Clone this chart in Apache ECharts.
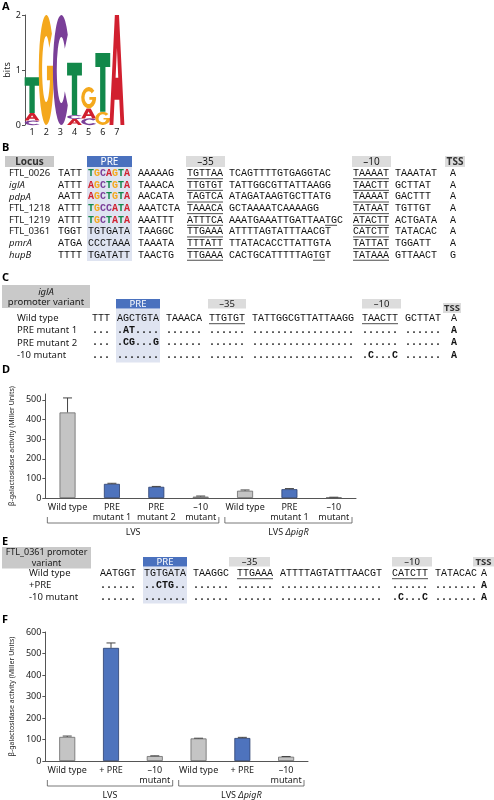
<!DOCTYPE html>
<html>
<head>
<meta charset="utf-8">
<script src="https://cdn.jsdelivr.net/npm/echarts@6/dist/echarts.min.js"></script>
<style>
  html, body { margin: 0; padding: 0; background: #fff; }
  #main { width: 494px; height: 800px; }
</style>
</head>
<body>
<div id="main"></div>
<script>
// ---------- data ----------
// A: sequence logo, letters stacked bottom -> top, heights in bits
const logoPositions = ['1', '2', '3', '4', '5', '6', '7'];
const logoStacks = [
  [['C', 0.08], ['A', 0.14], ['T', 0.65]],
  [['G', 2.0]],
  [['C', 2.0]],
  [['A', 0.11], ['C', 0.07], ['T', 0.95]],
  [['C', 0.12], ['A', 0.18], ['G', 0.39]],
  [['G', 0.24], ['T', 1.07]],
  [['A', 2.0]]
];

// B: promoter alignment
const loci = ['FTL_0026', 'iglA', 'pdpA', 'FTL_1218', 'FTL_1219', 'FTL_0361', 'pmrA', 'hupB'];
const lociItalic = [false, true, true, false, false, false, true, true];
const lociUpstream = ['TATT', 'ATTT', 'AATT', 'ATTT', 'ATTT', 'TGGT', 'ATGA', 'TTTT'];
const lociPre = ['TGCAGTA', 'AGCTGTA', 'AGCTGTA', 'TGCCATA', 'TGCTATA', 'TGTGATA', 'CCCTAAA', 'TGATATT'];
const lociPreColoured = [true, true, true, true, true, false, false, false];
const lociDown = ['AAAAAG', 'TAAACA', 'AACATA', 'AAATCTA', 'AAATTT', 'TAAGGC', 'TAAATA', 'TAACTG'];
const lociM35 = ['TGTTAA', 'TTGTGT', 'TAGTCA', 'TAAACA', 'ATTTCA', 'TTGAAA', 'TTTATT', 'TTGAAA'];
const lociSpacer = ['TCAGTTTTGTGAGGTAC', 'TATTGGCGTTATTAAGG', 'ATAGATAAGTGCTTATG', 'GCTAAAATCAAAAGG',
  'AAATGAAATTGATTAATGC', 'ATTTTAGTATTTAACGT', 'TTATACACCTTATTGTA', 'CACTGCATTTTTAGTGT'];
const lociSpacerMark = [null, null, null, null, [16, 2], null, null, [14, 2]];
const lociM10 = ['TAAAAT', 'TAACTT', 'TAAAAT', 'TATAAT', 'ATACTT', 'CATCTT', 'TATTAT', 'TATAAA'];
const lociPost = ['TAAATAT', 'GCTTAT', 'GACTTT', 'TGTTGT', 'ACTGATA', 'TATACAC', 'TGGATT', 'GTTAACT'];
const lociTss = ['A', 'A', 'A', 'A', 'A', 'A', 'A', 'G'];

// C: iglA promoter variants
const iglaLabels = ['Wild type', 'PRE mutant 1', 'PRE mutant 2', '-10 mutant'];
const iglaSeqs = [
  ['TTT', 'AGCTGTA', 'TAAACA', 'TTGTGT', 'TATTGGCGTTATTAAGG', 'TAACTT', 'GCTTAT', 'A'],
  ['...', '.AT....', '......', '......', '.................', '......', '......', 'A'],
  ['...', '.CG...G', '......', '......', '.................', '......', '......', 'A'],
  ['...', '.......', '......', '......', '.................', '.C...C', '......', 'A']
];

// D: iglA reporter activity
const dCategories = ['Wild type', 'PRE\nmutant 1', 'PRE\nmutant 2', '–10\nmutant', 'Wild type', 'PRE\nmutant 1', '–10\nmutant'];
const dValues = [436, 72, 57, 7, 37, 45, 3];
const dErrors = [74, 3, 2, 3, 4, 3, 1];
const dIsPre = [false, true, true, false, false, true, false];
const dTicks = [0, 100, 200, 300, 400, 500];
const dGroups = [['LVS', '', 0, 3], ['LVS ', 'ΔpigR', 4, 6]];

// E: FTL_0361 promoter variants
const ftlLabels = ['Wild type', '+PRE', '-10 mutant'];
const ftlSeqs = [
  ['AATGGT', 'TGTGATA', 'TAAGGC', 'TTGAAA', 'ATTTTAGTATTTAACGT', 'CATCTT', 'TATACAC', 'A'],
  ['......', '..CTG..', '......', '......', '.................', '......', '.......', 'A'],
  ['......', '.......', '......', '......', '.................', '.C...C', '.......', 'A']
];

// F: FTL_0361 reporter activity
const fCategories = ['Wild type', '+ PRE', '–10\nmutant', 'Wild type', '+ PRE', '–10\nmutant'];
const fValues = [112, 526, 23, 105, 107, 20];
const fErrors = [4, 23, 1, 1, 3, 1];
const fIsPre = [false, true, false, false, true, false];
const fTicks = [0, 100, 200, 300, 400, 500, 600];
const fGroups = [['LVS', '', 0, 2], ['LVS ', 'ΔpigR', 3, 5]];

// ---------- style ----------
const SANS = '"Noto Sans", "Liberation Sans", sans-serif';
const MONO = '"Liberation Mono", "DejaVu Sans Mono", monospace';
const MONO_SIZE = 10;
const CW = MONO_SIZE * 0.6;
const GRAY = '#c4c4c4', GRAY_EDGE = '#6a6a6a', BLUE = '#4e73bd', BLUE_EDGE = '#2b3f6e';
const PRE_BOX = '#4a71be', PRE_SHADE = '#dfe4f1', HEAD_BOX = '#dcdcdc', LABEL_BOX = '#c9c9c9';
const LETTER_COLORS = { A: '#d1202f', C: '#7a3f98', G: '#f4a81d', T: '#12884a' };
const LETTERS = 'ACGT';
const GLYPHS = {
  T: 'M0 0H100V24H68V100H32V24H0Z',
  A: 'M0 100L36 0H64L100 100H74L66 77H34L26 100Z M41 57H59L50 30Z',
  C: 'M86.8 17.9A48 50 0 1 0 86.8 82.1L69.9 69.3A26 30 0 1 1 69.9 30.7Z',
  G: 'M86.8 17.9A48 50 0 1 0 98 59V47H55V60H74.5A26 30 0 1 1 69.9 30.7Z'
};

// ---------- graphic helpers ----------
const g = [];
function rect(x, y, w, h, fill) {
  g.push({ type: 'rect', silent: true, shape: { x: x, y: y, width: w, height: h }, style: { fill: fill } });
}
function text(x, y, s, st) {
  const base = {
    x: x, y: y, text: s, fill: '#1a1a1a', fontFamily: SANS, fontSize: 9.5,
    fontWeight: 'normal', fontStyle: 'normal',
    align: 'left', textAlign: 'left', verticalAlign: 'middle', textVerticalAlign: 'middle'
  };
  const o = Object.assign(base, st || {});
  if (st && st.align) o.textAlign = st.align;
  g.push({ type: 'text', silent: true, style: o });
}
function ctext(x, y, s, st) { text(x, y, s, Object.assign({ align: 'center' }, st || {})); }
function uline(x1, x2, y) {
  g.push({ type: 'line', silent: true, shape: { x1: x1, y1: y, x2: x2, y2: y }, style: { stroke: '#222', lineWidth: 0.8 } });
}
function seq(x, y, s, bold) {
  text(x, y, s, { fontFamily: MONO, fontSize: MONO_SIZE, fill: '#111', fontWeight: bold ? 'bold' : 'normal' });
}
function seqColoured(x, y, s) {
  const rich = {};
  'ACGT'.split('').forEach(function (c) {
    rich[c] = { fill: LETTER_COLORS[c], fontFamily: MONO, fontSize: MONO_SIZE, fontWeight: 'bold' };
  });
  text(x, y, s.split('').map(function (c) { return '{' + c + '|' + c + '}'; }).join(''),
    { fontFamily: MONO, fontSize: MONO_SIZE, fontWeight: 'bold', rich: rich });
}
function underSeq(x, y, from, n) { uline(x + from * CW, x + (from + n) * CW, y + 5.2); }
function panelLabel(y, s) { text(2, y, s, { fontWeight: 'bold', fontSize: 11, fill: '#000' }); }

// ---------- A ----------
panelLabel(7, 'A');

// ---------- B ----------
panelLabel(147.5, 'B');
const B_COLS = [58, 88, 138, 187, 229, 353, 395, 450];
const B_Y0 = 173.5, B_DY = 11.65;
rect(87, 167, 45, 94, PRE_SHADE);
rect(5, 156, 49, 11, LABEL_BOX); ctext(29.5, 161.8, 'Locus', { fontSize: 10, fontWeight: 'bold', fill: '#333' });
rect(87, 156, 45, 11, PRE_BOX); ctext(109.5, 161.8, 'PRE', { fill: '#fff', fontSize: 10 });
rect(186, 156, 39, 11, HEAD_BOX); ctext(205.5, 161.8, '–35', { fontSize: 10 });
rect(352, 156, 39, 11, HEAD_BOX); ctext(371.5, 161.8, '–10', { fontSize: 10 });
rect(445, 156, 20, 11, HEAD_BOX); ctext(455, 161.8, 'TSS', { fontSize: 10, fontWeight: 'bold', fill: '#333' });
loci.forEach(function (name, i) {
  const y = B_Y0 + i * B_DY;
  text(9, y, name, { fontStyle: lociItalic[i] ? 'italic' : 'normal' });
  const chunks = [lociUpstream[i], lociPre[i], lociDown[i], lociM35[i], lociSpacer[i], lociM10[i], lociPost[i], lociTss[i]];
  chunks.forEach(function (s, k) {
    if (k === 1 && lociPreColoured[i]) seqColoured(B_COLS[k], y, s);
    else seq(B_COLS[k], y, s, false);
  });
  underSeq(B_COLS[3], y, 0, lociM35[i].length);
  underSeq(B_COLS[5], y, 0, lociM10[i].length);
  if (lociSpacerMark[i]) underSeq(B_COLS[4], y, lociSpacerMark[i][0], lociSpacerMark[i][1]);
});

// ---------- C ----------
panelLabel(277.5, 'C');
const C_COLS = [92, 117, 166, 209, 252, 362, 405, 451];
const C_Y0 = 318.5, C_DY = 12.2;
rect(2, 285, 88, 23, LABEL_BOX);
ctext(46, 292, 'iglA', { fontStyle: 'italic', fontSize: 9.5 });
ctext(46, 302.5, 'promoter variant', { fontSize: 9.5 });
rect(116, 308.5, 44, 54, PRE_SHADE);
rect(116, 299, 44, 9.5, PRE_BOX); ctext(138, 304, 'PRE', { fill: '#fff' });
rect(208, 299, 38, 9.5, HEAD_BOX); ctext(227, 304, '–35');
rect(362, 299, 39, 9.5, HEAD_BOX); ctext(381.5, 304, '–10');
rect(443, 303, 18, 10, HEAD_BOX); ctext(452, 308.2, 'TSS', { fontWeight: 'bold', fill: '#333' });
iglaSeqs.forEach(function (row, i) {
  const y = C_Y0 + i * C_DY;
  text(17, y, iglaLabels[i]);
  row.forEach(function (s, k) { seq(C_COLS[k], y, s, i > 0); });
  if (i === 0) {
    underSeq(C_COLS[3], y, 0, row[3].length);
    underSeq(C_COLS[5], y, 0, row[5].length);
  }
});

// ---------- D / E / F labels ----------
panelLabel(370, 'D');
panelLabel(542, 'E');
const E_COLS = [100, 144, 193, 237, 280, 392, 435, 481];
const E_Y0 = 573.5, E_DY = 11.8;
rect(2, 547, 89, 21.5, LABEL_BOX);
ctext(46.5, 552.8, 'FTL_0361 promoter', { fontSize: 9 });
ctext(46.5, 563.3, 'variant', { fontSize: 9 });
rect(143, 566.5, 44, 37, PRE_SHADE);
rect(143, 557, 44, 9.5, PRE_BOX); ctext(165, 562, 'PRE', { fill: '#fff' });
rect(229, 557, 41, 9.5, HEAD_BOX); ctext(249.5, 562, '–35');
rect(392, 557, 40, 9.5, HEAD_BOX); ctext(412, 562, '–10');
rect(473, 557, 21, 9.5, HEAD_BOX); ctext(483.5, 562, 'TSS', { fontWeight: 'bold', fill: '#333' });
ftlSeqs.forEach(function (row, i) {
  const y = E_Y0 + i * E_DY;
  text(29, y, ftlLabels[i]);
  row.forEach(function (s, k) { seq(E_COLS[k], y, s, i > 0); });
  if (i === 0) {
    underSeq(E_COLS[3], y, 0, row[3].length);
    underSeq(E_COLS[5], y, 0, row[5].length);
  }
});
panelLabel(620, 'F');

// ---------- chart ----------
const chart = echarts.init(document.getElementById('main'), null, { renderer: 'canvas' });

const logoData = [];
logoStacks.forEach(function (stack, col) {
  let base = 0;
  stack.forEach(function (item) {
    logoData.push([col, base, base + item[1], LETTERS.indexOf(item[0])]);
    base += item[1];
  });
});

function renderLetter(params, api) {
  const col = api.value(0);
  const bottom = api.coord([col, api.value(1)]);
  const top = api.coord([col, api.value(2)]);
  const w = api.size([1, 0])[0] * 1.05;
  const letter = LETTERS.charAt(api.value(3));
  return {
    type: 'path',
    shape: { pathData: GLYPHS[letter], x: bottom[0] - w / 2, y: top[1], width: w, height: bottom[1] - top[1], layout: 'cover' },
    style: { fill: LETTER_COLORS[letter] }
  };
}

function renderError(params, api) {
  const x = api.value(0), v = api.value(1), e = api.value(2);
  const p0 = api.coord([x, v]);
  const p1 = api.coord([x, v + e]);
  const cap = 4.5;
  const st = { stroke: '#444', lineWidth: 1 };
  return {
    type: 'group',
    children: [
      { type: 'line', shape: { x1: p0[0], y1: p0[1], x2: p1[0], y2: p1[1] }, style: st },
      { type: 'line', shape: { x1: p1[0] - cap, y1: p1[1], x2: p1[0] + cap, y2: p1[1] }, style: st }
    ]
  };
}

const axisFont = { color: '#222', fontFamily: SANS, fontSize: 9 };
const yName = 'β-galactosidase activity (Miller Units)';

function barData(values, isPre) {
  return values.map(function (v, i) {
    return {
      value: v,
      itemStyle: { color: isPre[i] ? BLUE : GRAY, borderColor: isPre[i] ? BLUE_EDGE : GRAY_EDGE, borderWidth: 0.8 }
    };
  });
}
function catAxis(gridIndex, data) {
  return {
    type: 'category', gridIndex: gridIndex, data: data,
    axisLine: { show: true, lineStyle: { color: '#555', width: 1 } },
    axisTick: { show: false },
    axisLabel: Object.assign({ interval: 0, margin: 4, lineHeight: 10.5 }, axisFont)
  };
}
function valAxis(gridIndex, max, ticks) {
  return {
    type: 'value', gridIndex: gridIndex, min: 0, max: max,
    splitLine: { show: false },
    axisLine: { show: true, lineStyle: { color: '#555', width: 1 } },
    axisTick: { show: true, length: 3, customValues: ticks, lineStyle: { color: '#555' } },
    axisLabel: Object.assign({ margin: 4, customValues: ticks }, axisFont),
    name: yName, nameLocation: 'middle', nameGap: 21,
    nameTextStyle: { fontFamily: SANS, fontSize: 7, color: '#222' }
  };
}

const option = {
  animation: false,
  backgroundColor: '#fff',
  textStyle: { fontFamily: SANS },
  grid: [
    { left: 25, top: 15, width: 99, height: 110 },
    { left: 36, top: 394, width: 320, height: 104 },
    { left: 36, top: 632, width: 272, height: 129 }
  ],
  xAxis: [
    {
      type: 'category', gridIndex: 0, data: logoPositions,
      axisLine: { show: false }, axisTick: { show: false },
      axisLabel: Object.assign({ margin: 3 }, axisFont)
    },
    catAxis(1, dCategories),
    catAxis(2, fCategories)
  ],
  yAxis: [
    {
      type: 'value', gridIndex: 0, min: 0, max: 2, interval: 1,
      splitLine: { show: false },
      axisLine: { show: true, lineStyle: { color: '#555' } },
      axisTick: { show: true, length: 3, lineStyle: { color: '#555' } },
      axisLabel: Object.assign({ margin: 4 }, axisFont),
      name: 'bits', nameLocation: 'middle', nameGap: 13,
      nameTextStyle: { fontFamily: SANS, fontSize: 9, color: '#222' }
    },
    valAxis(1, 530, dTicks),
    valAxis(2, 600, fTicks)
  ],
  series: [
    { type: 'custom', xAxisIndex: 0, yAxisIndex: 0, renderItem: renderLetter, data: logoData, silent: true },
    { type: 'bar', xAxisIndex: 1, yAxisIndex: 1, barWidth: 16, data: barData(dValues, dIsPre), silent: true },
    {
      type: 'custom', xAxisIndex: 1, yAxisIndex: 1, renderItem: renderError, z: 3, silent: true,
      data: dValues.map(function (v, i) { return [i, v, dErrors[i]]; })
    },
    { type: 'bar', xAxisIndex: 2, yAxisIndex: 2, barWidth: 16, data: barData(fValues, fIsPre), silent: true },
    {
      type: 'custom', xAxisIndex: 2, yAxisIndex: 2, renderItem: renderError, z: 3, silent: true,
      data: fValues.map(function (v, i) { return [i, v, fErrors[i]]; })
    }
  ]
};
chart.setOption(option);

// group brackets under the bar charts, placed from the axis positions
function brackets(gridIndex, groups) {
  const c0 = chart.convertToPixel({ gridIndex: gridIndex }, [0, 0]);
  const c1 = chart.convertToPixel({ gridIndex: gridIndex }, [1, 0]);
  const band = c1[0] - c0[0];
  const yLine = c0[1] + 25;
  groups.forEach(function (gr) {
    const xa = chart.convertToPixel({ gridIndex: gridIndex }, [gr[2], 0])[0] - band / 2 + 2;
    const xb = chart.convertToPixel({ gridIndex: gridIndex }, [gr[3], 0])[0] + band / 2 - 4;
    g.push({
      type: 'polyline', silent: true,
      shape: { points: [[xa, yLine - 6], [xa, yLine], [xb, yLine], [xb, yLine - 6]] },
      style: { stroke: '#555', fill: null, lineWidth: 0.8 }
    });
    const rich = {
      n: { fontFamily: SANS, fontSize: 9, fill: '#1a1a1a' },
      i: { fontFamily: SANS, fontSize: 9, fontStyle: 'italic', fill: '#1a1a1a' }
    };
    const label = '{n|' + gr[0] + '}' + (gr[1] ? '{i|' + gr[1] + '}' : '');
    ctext((xa + xb) / 2, yLine + 9, label, { rich: rich, fontSize: 9 });
  });
}
brackets(1, dGroups);
brackets(2, fGroups);

chart.setOption({ graphic: { elements: g } });
</script>
</body>
</html>
